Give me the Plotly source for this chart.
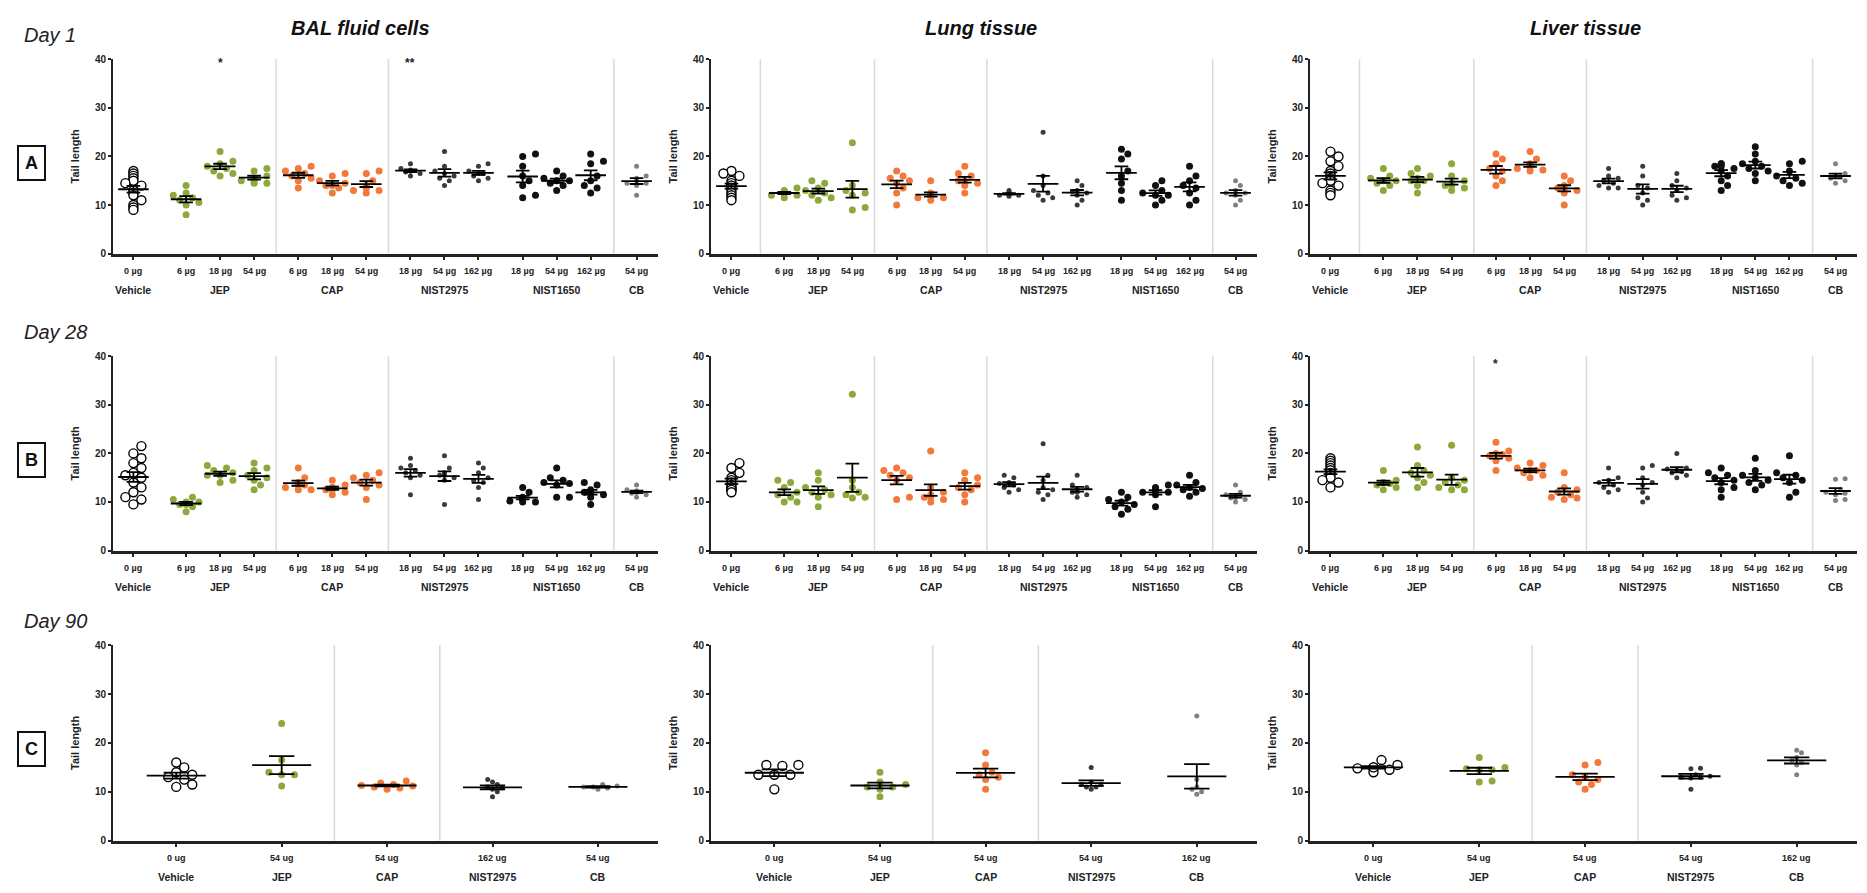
import plotly.graph_objects as go
import math

W, H = 1867, 893

# ---------------- categories / labels ----------------
groups_ab = ["Vehicle", "JEP", "JEP", "JEP", "CAP", "CAP", "CAP",
             "NIST2975", "NIST2975", "NIST2975", "NIST1650", "NIST1650", "NIST1650", "CB"]
doses_ab = ["0 µg", "6 µg", "18 µg", "54 µg", "6 µg", "18 µg", "54 µg",
            "18 µg", "54 µg", "162 µg", "18 µg", "54 µg", "162 µg", "54 µg"]
group_names_ab = ["Vehicle", "JEP", "CAP", "NIST2975", "NIST1650", "CB"]

groups_c = ["Vehicle", "JEP", "CAP", "NIST2975", "CB"]
doses_c_bal = ["0 ug", "54 ug", "54 ug", "162 ug", "54 ug"]
doses_c_lung = ["0 ug", "54 ug", "54 ug", "54 ug", "162 ug"]
doses_c_liver = ["0 ug", "54 ug", "54 ug", "54 ug", "162 ug"]

tissues = ["BAL fluid cells", "Lung tissue", "Liver tissue"]
days = ["Day 1", "Day 28", "Day 90"]
row_letters = ["A", "B", "C"]

# ---------------- data (tail length) ----------------
day1_bal = [
    [17, 16.5, 16, 15.5, 15, 14.5, 14, 13, 12.5, 12, 11, 10, 9.5, 9],
    [14, 12.5, 12, 11.5, 11, 10.5, 10, 8],
    [21, 19, 18.5, 18, 17.5, 17, 16.5, 16],
    [17.5, 17, 16, 15.5, 15, 15, 14.5, 14.5],
    [18, 17.5, 17, 16.5, 16, 15.5, 15, 13.5],
    [16.5, 16, 15, 14.5, 14, 14, 13.5, 12.5],
    [17, 16.5, 15, 14, 13.5, 13, 13, 12.5],
    [18.5, 17.5, 17.2, 17, 17, 16.8, 16.5, 16],
    [21, 18, 17, 16.5, 16, 15.5, 15, 14],
    [18.5, 18, 17, 16.5, 16.5, 16, 15.5, 15],
    [20.5, 20, 18, 16, 15, 14, 12, 11.5],
    [17, 16, 15.5, 15, 15, 14.5, 14, 13],
    [20.5, 19, 18.5, 16, 15, 14, 13.5, 12.5],
    [18, 16, 15.5, 15, 14.5, 14.5, 14, 12],
]
day1_lung = [
    [17, 16.5, 16, 15, 14.5, 14, 14, 13.5, 13, 12.5, 12, 11.5, 11],
    [13.5, 13, 12.8, 12.5, 12.5, 12, 12, 11.5],
    [15, 14.5, 13.5, 13, 12.5, 12, 11.5, 11],
    [22.8, 14, 13, 12.5, 12, 9.5, 9],
    [17, 16, 15.5, 15, 14.5, 13.5, 12.5, 10],
    [15, 12.5, 12, 12, 11.8, 11.5, 11.5, 11],
    [18, 16.5, 16, 15, 15, 14.5, 14, 12.5],
    [13, 12.7, 12.5, 12.3, 12.2, 12, 12, 11.8],
    [25, 16, 14, 13, 12.5, 12, 11.5, 11],
    [15, 14, 13, 12.8, 12.5, 12, 11, 10],
    [21.5, 20.5, 19.5, 17, 16, 14.5, 13, 11],
    [15, 14, 13, 12.5, 12, 12, 11, 10],
    [18, 16, 15, 14, 13.5, 12.5, 11, 10],
    [15, 14, 13, 12.5, 12.5, 12, 11, 10],
]
day1_liver = [
    [21, 20, 19, 18, 17, 16.5, 16, 15.5, 15, 14.5, 14, 13, 12.5, 12],
    [17.5, 16, 15.5, 15, 15, 14.5, 14, 13],
    [17.5, 16.5, 16, 15.5, 15, 15, 14, 12.5],
    [18.5, 16, 15, 14.5, 14, 14, 13.5, 13],
    [20.5, 19.5, 18.5, 17.5, 17, 16, 15, 14],
    [21, 19.5, 18.5, 18, 17.8, 17.5, 17.2, 17],
    [16, 15, 14, 13.5, 13.5, 13, 12.5, 10],
    [17.5, 16, 15.5, 15, 14.5, 14, 13.5, 13.5],
    [18, 16, 14, 13.5, 12.5, 11.5, 11, 10],
    [16.5, 15, 14, 13.5, 13, 12, 11.5, 11],
    [18.5, 18.5, 18, 18, 17.5, 17, 16, 15, 14, 13],
    [22, 20.5, 19, 18.5, 18, 17.5, 17, 16.5, 15],
    [19, 18.5, 17, 16, 15.5, 15, 14.5, 14],
    [18.5, 16.5, 16, 15.8, 15.5, 15, 14.5],
]
day28_bal = [
    [21.5, 20, 19, 18, 17, 16, 15.5, 15, 14, 13, 12, 11, 10.5, 9.5],
    [11, 10.5, 10, 10, 9.5, 9.5, 9, 8],
    [17.5, 17, 16.5, 16, 15.5, 15.5, 14.5, 14],
    [18, 17, 16.5, 15.5, 15, 14.5, 13.5, 12.5],
    [17, 15, 14, 13.5, 13.5, 13, 12.5, 12.5],
    [14.5, 13.5, 13, 13, 12.5, 12.5, 12, 11.5],
    [16, 15.5, 15, 14.5, 14, 13.5, 13, 10.5],
    [19, 17.5, 17, 16.5, 16, 15.5, 15, 11.5],
    [19.5, 17, 16, 15.5, 15.5, 15, 14.5, 9.5],
    [18, 17, 16, 15, 14.5, 14, 13, 10.5],
    [13, 12, 11, 10.5, 10.5, 10.2, 10, 10],
    [17, 15, 14.5, 14, 13.8, 13.5, 11, 11],
    [14, 13.5, 12.5, 12, 12, 11.5, 11, 9.5],
    [13.5, 12.5, 12.3, 12, 12, 11.8, 11.5, 11],
]
day28_lung = [
    [18, 17, 16, 15, 14.5, 14, 13.5, 13, 13, 12.5, 12.5, 12],
    [14.5, 14, 13, 12, 11.5, 11, 10, 10],
    [16, 14.5, 13, 12.5, 12, 11.5, 11, 9],
    [32.2, 14.5, 13, 12, 11.5, 11, 10.8],
    [17, 16.5, 16, 15.5, 15, 14.5, 11, 10.5],
    [20.5, 13, 12, 11.5, 11, 11, 10.5, 10],
    [16, 15, 14.5, 13.5, 13, 12.5, 11.5, 10],
    [15.5, 15, 14, 13.8, 13.5, 13, 12.5, 12],
    [22, 15.5, 14.5, 13, 12.5, 12, 11.5, 10.5],
    [15.5, 13.5, 13, 12.5, 12, 12, 11.5, 11],
    [12, 11, 10.5, 10, 9.5, 9, 8.5, 7.5],
    [13.5, 13, 12.5, 12.3, 12, 12, 11.5, 9],
    [15.5, 14, 13.5, 13, 12.8, 12.5, 12, 11.2],
    [13.5, 12, 11.5, 11, 11, 10.8, 10.5, 10],
]
day28_liver = [
    [19, 18.5, 18, 17.5, 17, 16.5, 16.5, 16, 15.5, 15, 14.5, 14, 13],
    [16.5, 14.5, 14, 14, 13.8, 13.5, 13, 12.5],
    [21.3, 17.5, 16.5, 16, 15.5, 15, 14, 13],
    [21.7, 15, 14.5, 14, 13.5, 13, 12.5, 12.5],
    [22.3, 20.5, 20, 19.8, 19.5, 19, 18.5, 16.5],
    [18, 17.5, 17, 16.5, 16.5, 16, 15.5, 15],
    [16, 13, 12.5, 12, 11.5, 11, 10.8, 10.5],
    [17, 15, 14.5, 14, 13.5, 13, 12.5, 12],
    [17.5, 17, 15, 14, 13.5, 12, 10.8, 10],
    [20, 17, 16.8, 16.5, 16.3, 16, 15.5, 15],
    [17, 16, 15.5, 15, 14.5, 14, 13, 12.5, 11],
    [19, 16.5, 15.5, 15, 14.5, 14, 13.5, 12.5],
    [19.5, 16, 15.5, 15, 14.5, 14, 12, 11],
    [14.8, 14.7, 12.5, 12, 11.8, 11.5, 10.5, 10.3],
]
day90_bal = [
    [16, 15, 14, 13.5, 13, 12.5, 11.5, 11],
    [24, 16.5, 14, 13.5, 13.5, 11.2],
    [12.2, 11.8, 11.5, 11.3, 11.2, 11, 10.8, 10.5],
    [12.5, 12, 11.5, 11, 10.8, 10.5, 10, 9],
    [11.5, 11.2, 11, 11, 10.8, 10.5],
]
day90_lung = [
    [15.5, 15.3, 15.5, 13.5, 13.5, 13.5, 10.5],
    [14, 12, 11.5, 11, 11, 10.5, 9],
    [18, 15.5, 14, 13.5, 13, 12.5, 10.5],
    [15, 12, 11.5, 11.5, 11, 11, 10.5],
    [25.5, 12.5, 11, 10.5, 10, 9.5],
]
day90_liver = [
    [16.5, 15.5, 15, 14.8, 14.8, 14.5, 14, 15],
    [17, 15, 14.7, 14.5, 14.5, 12.2, 12],
    [16, 15.5, 13.5, 13, 12.5, 12, 11.5, 10.5],
    [14.8, 14.7, 13.5, 13.2, 13, 13, 12.8, 10.5],
    [18.5, 18, 17, 16.5, 16, 15.5, 13.5],
]

# ---------------- layout geometry (pixels) ----------------
col_px = [(113, 658), (711, 1257), (1310, 1857)]
row_px = [(54, 251), (355, 552), (648, 846)]      # (y of 40, y of 0)

pos_ab = [0.6, 2.15, 3.15, 4.15, 5.45, 6.45, 7.45, 8.75, 9.75, 10.75, 12.05, 13.05, 14.05, 15.4]
label_pos_ab = [0.6, 3.15, 6.45, 9.75, 13.05, 15.4]
xr_ab = [0, 16.03]
pos_c = [0.6, 1.6, 2.6, 3.6, 4.6]
xr_c = [0, 5.17]

style = {
    "Vehicle": dict(color="white", size=9, line=dict(color="black", width=1.4)),
    "JEP": dict(color="#8DA83B", size=7, line=dict(width=0)),
    "CAP": dict(color="#F2793A", size=7, line=dict(width=0)),
    "NIST2975": dict(color="#3a3a3a", size=5, line=dict(width=0)),
    "NIST1650": dict(color="#111111", size=7, line=dict(width=0)),
    "CB": dict(color="#808080", size=5, line=dict(width=0)),
}

panels = []
data_grid = [[day1_bal, day1_lung, day1_liver],
             [day28_bal, day28_lung, day28_liver],
             [day90_bal, day90_lung, day90_liver]]
doses_c = [doses_c_bal, doses_c_lung, doses_c_liver]
for r in range(3):
    for c in range(3):
        if r < 2:
            seps = [4.8, 8.1, 14.73]
            if r == 0 and c > 0:
                seps = [1.45] + seps
            panels.append(dict(r=r, c=c, data=data_grid[r][c], pos=pos_ab, groups=groups_ab,
                               doses=doses_ab, gnames=group_names_ab, gpos=label_pos_ab,
                               xr=xr_ab, seps=seps, hw=0.45, cap=0.2, maxoff=14))
        else:
            panels.append(dict(r=r, c=c, data=data_grid[r][c], pos=pos_c, groups=groups_c,
                               doses=doses_c[c], gnames=groups_c, gpos=pos_c,
                               xr=xr_c, seps=[2.1, 3.1], hw=0.28, cap=0.12, maxoff=30))


def swarm(vals, center, xpx, ypx, diam, maxoff):
    order = sorted(range(len(vals)), key=lambda i: vals[i])
    placed = []
    xs = [center] * len(vals)
    cands = [0.0]
    step = diam * 0.8
    for j in range(1, 30):
        cands += [j * step, -j * step]
    for i in order:
        yy = vals[i] * ypx
        chosen = cands[-1]
        for cc in cands:
            if abs(cc) > maxoff:
                continue
            if all((cc - px) ** 2 + (yy - py) ** 2 >= (diam * 0.9) ** 2 for px, py in placed):
                chosen = cc
                break
        else:
            chosen = 0.0
        placed.append((chosen, yy))
        xs[i] = center + chosen / xpx
    return xs


def py(px):
    return 1 - px / H


def pxx(px):
    return px / W


fig = go.Figure()
annotations = []
shapes = []
FONT = "Arial, Liberation Sans, sans-serif"

for k, p in enumerate(panels):
    sx = "" if k == 0 else str(k + 1)
    xref, yref = "x" + sx, "y" + sx
    x0, x1 = col_px[p["c"]]
    y40, y0 = row_px[p["r"]]
    xpx = (x1 - x0) / (p["xr"][1] - p["xr"][0])
    ypx = (y0 - y40) / 40.0
    line_x, line_y = [], []
    for gi, vals in enumerate(p["data"]):
        g = p["groups"][gi]
        st = style[g]
        cx = p["pos"][gi]
        xs = swarm(vals, cx, xpx, ypx, st["size"] + 1, p["maxoff"])
        fig.add_trace(go.Scatter(x=xs, y=vals, mode="markers", xaxis=xref, yaxis=yref,
                                 marker=dict(color=st["color"], size=st["size"], line=st["line"]),
                                 showlegend=False, hoverinfo="y"))
        n = len(vals)
        m = sum(vals) / n
        sd = math.sqrt(sum((v - m) ** 2 for v in vals) / (n - 1))
        se = sd / math.sqrt(n)
        hw, cp = p["hw"], p["cap"]
        line_x += [cx - hw, cx + hw, None, cx, cx, None, cx - cp, cx + cp, None, cx - cp, cx + cp, None]
        line_y += [m, m, None, m - se, m + se, None, m - se, m - se, None, m + se, m + se, None]
    fig.add_trace(go.Scatter(x=line_x, y=line_y, mode="lines", xaxis=xref, yaxis=yref,
                             line=dict(color="black", width=1.8), showlegend=False, hoverinfo="skip"))

    fig.layout["xaxis" + sx] = dict(
        domain=[pxx(x0), pxx(x1)], range=p["xr"], anchor=yref, showgrid=False, zeroline=False,
        showline=True, linecolor="#222", linewidth=2.5, ticks="outside", ticklen=4, tickwidth=1.5,
        tickcolor="#222", tickvals=p["pos"], ticktext=[""] * len(p["pos"]), fixedrange=True)
    fig.layout["yaxis" + sx] = dict(
        domain=[py(y0), py(y40)], range=[0, 40], anchor=xref, showgrid=False, zeroline=False,
        showline=True, linecolor="#222", linewidth=2, ticks="outside", ticklen=3, tickwidth=1.5,
        tickcolor="#222", tickvals=[0, 10, 20, 30, 40],
        tickfont=dict(family=FONT, size=10, color="#222", weight="bold"), fixedrange=True)

    for sxv in p["seps"]:
        shapes.append(dict(type="line", xref=xref, yref=yref + " domain", x0=sxv, x1=sxv, y0=0, y1=1,
                           line=dict(color="#d9d9d9", width=1.5), layer="below"))

    for gi, d in enumerate(p["doses"]):
        annotations.append(dict(x=p["pos"][gi], xref=xref, y=py(y0 + 18), yref="paper", text="<b>" + d + "</b>",
                                showarrow=False, font=dict(family=FONT, size=9, color="#222"),
                                xanchor="center", yanchor="middle"))
    for gn, gp in zip(p["gnames"], p["gpos"]):
        annotations.append(dict(x=gp, xref=xref, y=py(y0 + 37), yref="paper", text="<b>" + gn + "</b>",
                                showarrow=False, font=dict(family=FONT, size=10.5, color="#222"),
                                xanchor="center", yanchor="middle"))
    annotations.append(dict(x=pxx(x0 - 38), xref="paper", y=py((y0 + y40) / 2), yref="paper",
                            text="<b>Tail length</b>", textangle=-90, showarrow=False,
                            font=dict(family=FONT, size=11, color="#222"), xanchor="center", yanchor="middle"))

# significance marks
sig = [(0, 2, 39.2, "*"), (0, 7, 39.2, "**"), (5, 4, 38.3, "*")]
for k, gi, yv, txt in sig:
    sx = "" if k == 0 else str(k + 1)
    annotations.append(dict(x=panels[k]["pos"][gi], xref="x" + sx, y=yv, yref="y" + sx, text="<b>" + txt + "</b>",
                            showarrow=False, font=dict(family=FONT, size=12, color="#222"), yanchor="middle"))

# column titles
for c, (t, cxp) in enumerate(zip(tissues, [360, 981, 1585])):
    annotations.append(dict(x=pxx(cxp), xref="paper", y=py(22), yref="paper", text="<b><i>" + t + "</i></b>",
                            showarrow=False, font=dict(family=FONT, size=20, color="#111"),
                            xanchor="center", yanchor="middle"))
# day labels and row letters
for r in range(3):
    y40, y0 = row_px[r]
    annotations.append(dict(x=pxx(22), xref="paper", y=py(y40 - 25), yref="paper", text="<i>" + days[r] + "</i>",
                            showarrow=False, font=dict(family=FONT, size=20, color="#222"),
                            xanchor="left", yanchor="middle"))
    annotations.append(dict(x=pxx(31), xref="paper", y=py(y40 + 105), yref="paper", text="<b>" + row_letters[r] + "</b>",
                            showarrow=False, font=dict(family=FONT, size=18, color="#111"),
                            xanchor="center", yanchor="middle", bordercolor="#111", borderwidth=2,
                            borderpad=6, bgcolor="white"))

fig.update_layout(width=W, height=H, margin=dict(l=0, r=0, t=0, b=0), paper_bgcolor="white",
                  plot_bgcolor="white", annotations=annotations, shapes=shapes, showlegend=False)
fig.write_html("out.html")
